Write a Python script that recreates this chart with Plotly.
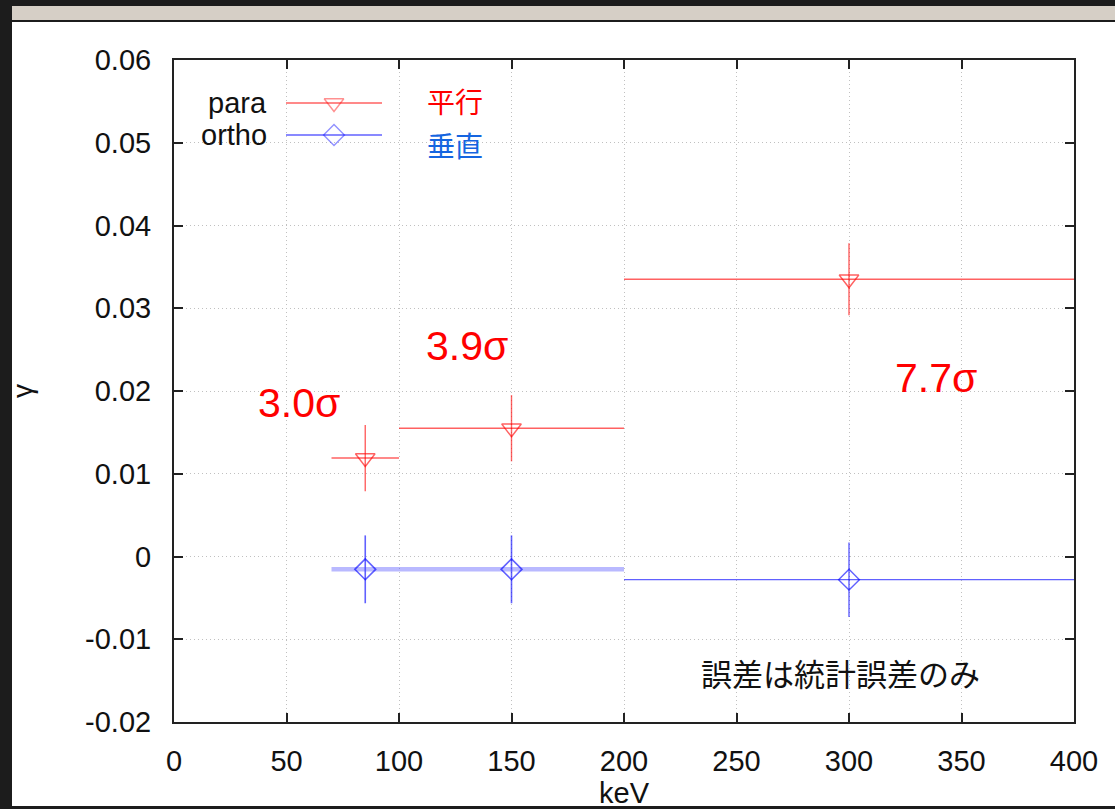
import plotly.graph_objects as go

# ---- data ----
para_x = [85, 150, 300]
para_xerr = [15, 50, 100]
para_y = [0.0119, 0.0155, 0.0335]
para_yerr = [0.0040, 0.0040, 0.00435]

ortho_x = [85, 150, 300]
ortho_xerr = [15, 50, 100]
ortho_y = [-0.00155, -0.00155, -0.0028]
ortho_yerr = [0.0041, 0.0041, 0.0045]

sigma_labels = ["3.0σ", "3.9σ", "7.7σ"]
sigma_label_x = [55.6, 130.2, 338.7]
sigma_label_y = [0.0186, 0.0254, 0.0216]

x_ticks = [0, 50, 100, 150, 200, 250, 300, 350, 400]
y_ticks = [-0.02, -0.01, 0, 0.01, 0.02, 0.03, 0.04, 0.05, 0.06]
y_ticktext = ["-0.02", "-0.01", "0", "0.01", "0.02", "0.03", "0.04", "0.05", "0.06"]

# ---- style ----
RED = "rgba(255,0,0,0.62)"
BLUE = "rgba(0,0,255,0.62)"
BLUE_WIDE = "rgba(70,70,255,0.38)"
FONT = "Liberation Sans, Arial, sans-serif"
JP_FONT = "Noto Sans CJK JP, sans-serif"

W, H = 1115, 809
ML, MR, MT, MB = 174, 41, 60, 87
PW, PH = W - ML - MR, H - MT - MB


def px_x(p):
    return (p - ML) / PW


def px_y(p):
    return 1 - (p - MT) / PH


fig = go.Figure()

# para
fig.add_trace(go.Scatter(
    x=para_x, y=para_y, mode="markers", name="para", showlegend=False,
    marker=dict(symbol="triangle-down-open", size=17, color=RED, line=dict(width=1.4, color=RED)),
    error_x=dict(type="data", array=para_xerr, color=RED, thickness=1.4, width=0),
    error_y=dict(type="data", array=para_yerr, color=RED, thickness=1.4, width=0),
))

# ortho: the first two bins share a wide, light horizontal bar
fig.add_trace(go.Scatter(
    x=ortho_x[:2], y=ortho_y[:2], mode="markers", name="ortho", showlegend=False,
    marker=dict(symbol="diamond-open", size=16, color=BLUE, line=dict(width=1.6, color=BLUE)),
    error_x=dict(type="data", array=ortho_xerr[:2], color=BLUE_WIDE, thickness=4.5, width=0),
    error_y=dict(type="data", array=ortho_yerr[:2], color=BLUE, thickness=1.6, width=0),
))
fig.add_trace(go.Scatter(
    x=ortho_x[2:], y=ortho_y[2:], mode="markers", name="ortho", showlegend=False,
    marker=dict(symbol="diamond-open", size=16, color=BLUE, line=dict(width=1.4, color=BLUE)),
    error_x=dict(type="data", array=ortho_xerr[2:], color=BLUE, thickness=1.4, width=0),
    error_y=dict(type="data", array=ortho_yerr[2:], color=BLUE, thickness=1.4, width=0),
))

# key samples (gnuplot style: label on the left, sample on the right)
KEY_X0, KEY_XM, KEY_X1 = px_x(286), px_x(334), px_x(382)
KEY_TEXT_X = px_x(269)
key_rows = [("para", px_y(103), RED, "triangle-down-open", 17),
            ("ortho", px_y(135), BLUE, "diamond-open", 16)]
for label, ky, col, sym, sz in key_rows:
    fig.add_trace(go.Scatter(
        x=[KEY_X0, KEY_XM, KEY_X1], y=[ky, ky, ky], mode="lines+markers",
        xaxis="x2", yaxis="y2", showlegend=False, hoverinfo="skip",
        line=dict(color=col, width=1.4),
        marker=dict(symbol=sym, size=[0, sz, 0], color=col, line=dict(width=1.4, color=col)),
    ))
    fig.add_annotation(xref="paper", yref="paper", x=KEY_TEXT_X, y=ky, text=label,
                       showarrow=False, xanchor="right", yanchor="middle",
                       font=dict(family=FONT, size=29, color="#111"))

# significance labels
for t, lx, ly in zip(sigma_labels, sigma_label_x, sigma_label_y):
    fig.add_annotation(x=lx, y=ly, text=t, showarrow=False, xanchor="center", yanchor="middle",
                       font=dict(family=FONT, size=41, color="#ff0000"))

fig.add_annotation(x=124.9, y=0.0551, text="平行", showarrow=False,
                   font=dict(family=JP_FONT, size=28, color="#ff0000"))
fig.add_annotation(x=124.9, y=0.0497, text="垂直", showarrow=False,
                   font=dict(family=JP_FONT, size=28, color="#1565e0"))
fig.add_annotation(x=296, y=-0.0140, text="誤差は統計誤差のみ", showarrow=False,
                   font=dict(family=JP_FONT, size=31, color="#111"))

# window frame around the white canvas
frame_x0, frame_x1 = px_x(12), px_x(W + 10)
fig.add_shape(type="rect", xref="paper", yref="paper", layer="below",
              x0=frame_x0, x1=frame_x1, y0=px_y(806), y1=px_y(22),
              fillcolor="white", line=dict(width=0))
fig.add_shape(type="rect", xref="paper", yref="paper", layer="below",
              x0=frame_x0, x1=frame_x1, y0=px_y(20), y1=px_y(6),
              fillcolor="#d6cfc6", line=dict(width=0))

axis_common = dict(
    automargin=False,
    showline=True, linecolor="#222", linewidth=2, mirror="ticks",
    ticks="inside", ticklen=9, tickwidth=1.5, tickcolor="#222",
    showgrid=True, gridcolor="#c0c0c0", gridwidth=1, griddash="1px,3px",
    zeroline=False, tickfont=dict(family=FONT, size=29, color="#111"),
)

fig.update_layout(
    width=W, height=H,
    margin=dict(l=ML, r=MR, t=MT, b=MB),
    paper_bgcolor="#1c1c1c", plot_bgcolor="white",
    showlegend=False,
    xaxis=dict(range=[0, 400], tickvals=x_ticks, ticklabelstandoff=12,
               title=dict(text="keV", font=dict(family=FONT, size=29, color="#111"), standoff=7),
               **axis_common),
    yaxis=dict(range=[-0.02, 0.06], tickvals=y_ticks, ticktext=y_ticktext, ticklabelstandoff=15,
               title=dict(text="γ", font=dict(family=FONT, size=28, color="#111"), standoff=44),
               **axis_common),
    xaxis2=dict(range=[0, 1], overlaying="x", visible=False),
    yaxis2=dict(range=[0, 1], overlaying="y", visible=False),
)

fig.write_html("out.html")
